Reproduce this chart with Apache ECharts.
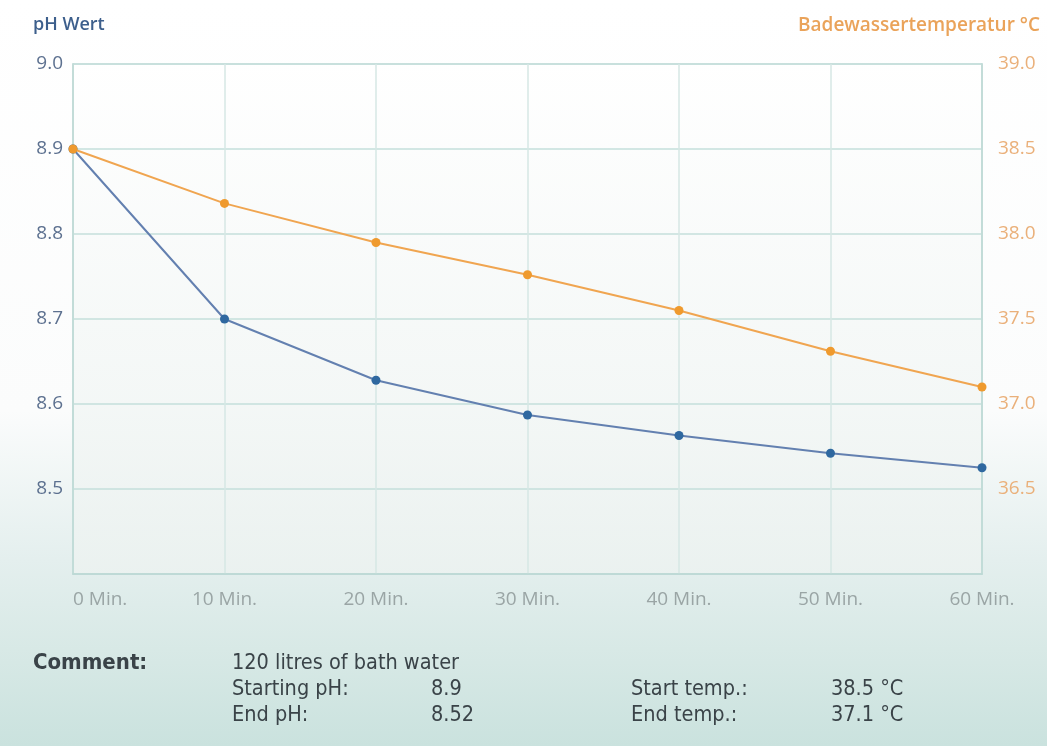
<!DOCTYPE html>
<html><head><meta charset="utf-8">
<script src="https://cdn.jsdelivr.net/npm/echarts@6/dist/echarts.min.js"></script>
<style>html,body{margin:0;padding:0;background:#fff}#c{width:1047px;height:746px}</style>
</head><body><div id="c"></div>
<script>
const categories = ['0 Min.', '10 Min.', '20 Min.', '30 Min.', '40 Min.', '50 Min.', '60 Min.'];
const phValues = [8.9, 8.7, 8.628, 8.587, 8.563, 8.542, 8.525];
const tempValues = [38.5, 38.18, 37.95, 37.76, 37.55, 37.31, 37.10];
const leftAxisTitle = 'pH Wert';
const rightAxisTitle = 'Badewassertemperatur °C';
const commentLabel = 'Comment:';
const commentLines = [
  ['120 litres of bath water', '', '', ''],
  ['Starting pH:', '8.9', 'Start temp.:', '38.5 °C'],
  ['End pH:', '8.52', 'End temp.:', '37.1 °C']
];

const chart = echarts.init(document.getElementById('c'));
const txtFont = '"DejaVu Sans Condensed", "Liberation Sans Narrow", "Open Sans", sans-serif';
const graphics = [
  {type:'text', left:33, top:16, style:{text:leftAxisTitle, fill:'#3d5f8c', font:'600 18px "Open Sans", sans-serif'}},
  {type:'text', right:7, top:16, style:{text:rightAxisTitle, fill:'#eaa35a', font:'600 19px "Open Sans", sans-serif'}},
  {type:'text', left:33, top:652, style:{text:commentLabel, fill:'#3a4348', font:'bold 22px ' + txtFont}}
];
const colX = [232, 431, 631, 831];
commentLines.forEach((row, ri) => {
  row.forEach((t, ci) => {
    if (t) graphics.push({type:'text', left:colX[ci], top:652 + ri*26, style:{text:t, fill:'#3a4348', font:'21.5px ' + txtFont}});
  });
});

chart.setOption({
  backgroundColor: {type:'linear', x:0, y:0, x2:0, y2:1, colorStops:[
    {offset:0, color:'#ffffff'}, {offset:0.55, color:'#fbfcfc'}, {offset:0.75, color:'#e4efee'},
    {offset:0.87, color:'#d8e9e6'}, {offset:1, color:'#cae2de'}]},
  animation:false,
  graphic: graphics,
  grid: {left:73, right:65, top:64, bottom:172, show:true, borderWidth:1.5, borderColor:'#c2dcd8',
    backgroundColor:{type:'linear', x:0, y:0, x2:0, y2:1, colorStops:[{offset:0, color:'rgba(255,255,255,0.9)'},{offset:1, color:'rgba(236,242,240,0.85)'}]}},
  xAxis: {type:'category', data:categories, boundaryGap:false,
    axisLine:{lineStyle:{color:'#bcd8d4', width:1.5}}, axisTick:{show:false},
    axisLabel:{color:'#9aa5a5', fontSize:19, margin:16, fontFamily:'"Open Sans", sans-serif', alignMinLabel:'left'},
    splitLine:{show:true, lineStyle:{color:'#d6e7e4', width:1.5}}},
  yAxis: [
    {type:'value', min:8.4, max:9.0, interval:0.1, position:'left',
      axisLine:{show:true, lineStyle:{color:'#bcd8d4', width:1.5}}, axisTick:{show:false},
      axisLabel:{color:'#5d7190', fontSize:19, margin:10, fontFamily:'"Open Sans", sans-serif',
        formatter:v => (Math.abs(v-8.4)<1e-6 ? '' : v.toFixed(1))},
      splitLine:{lineStyle:{color:'#c5dfdb', width:1.5}}},
    {type:'value', min:36.0, max:39.0, interval:0.5, position:'right',
      axisLine:{show:true, lineStyle:{color:'#bcd8d4', width:1.5}}, axisTick:{show:false},
      axisLabel:{color:'#eab07a', fontSize:19, margin:16, fontFamily:'"Open Sans", sans-serif',
        formatter:v => (Math.abs(v-36)<1e-6 ? '' : v.toFixed(1))},
      splitLine:{show:false}}
  ],
  series: [
    {type:'line', yAxisIndex:0, data:phValues, symbol:'circle', symbolSize:9,
      lineStyle:{color:'#6380b0', width:2}, itemStyle:{color:'#2f68a0'}, z:3},
    {type:'line', yAxisIndex:1, data:tempValues, symbol:'circle', symbolSize:9,
      lineStyle:{color:'#f0a550', width:2}, itemStyle:{color:'#ef9a2e'}, z:4}
  ]
});
</script></body></html>
